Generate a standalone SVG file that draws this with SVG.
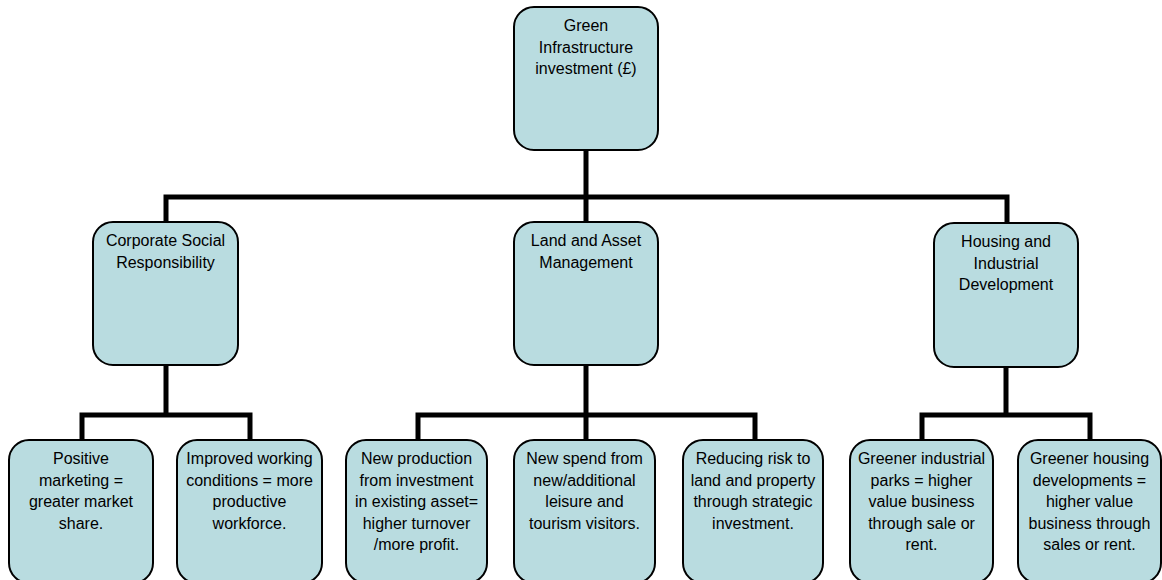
<svg xmlns="http://www.w3.org/2000/svg" width="1162" height="580" viewBox="0 0 1162 580">
<style>
.box{fill:#b9dce0;stroke:#000;stroke-width:2}
.t{font-family:"Liberation Sans",Arial,sans-serif;font-size:16px;fill:#000;text-anchor:middle}
.c{fill:none;stroke:#000;stroke-width:5;stroke-linejoin:miter;stroke-linecap:butt}
</style>
<rect width="1162" height="580" fill="#fff"/>
<g id="connectors">
<path class="c" d="M586 150V197M166 222V197H1007V222M586 197V222"/>
<path class="c" d="M166 365V415M82 440V415H250V440"/>
<path class="c" d="M586 365V415M418 440V415H755V440M586 415V440"/>
<path class="c" d="M1006 367V415M922 440V415H1090V440"/>
</g>
<g id="root">
<rect class="box" x="514" y="7" width="144" height="143" rx="20"/>
<text class="t" x="586" y="31">Green<tspan x="586" dy="21.5">Infrastructure</tspan><tspan x="586" dy="21.5">investment (£)</tspan></text>
</g>
<g id="csr">
<rect class="box" x="93" y="222" width="145" height="143" rx="20"/>
<text class="t" x="165.5" y="246">Corporate Social<tspan x="165.5" dy="21.5">Responsibility</tspan></text>
</g>
<g id="land">
<rect class="box" x="514" y="222" width="144" height="143" rx="20"/>
<text class="t" x="586" y="246">Land and Asset<tspan x="586" dy="21.5">Management</tspan></text>
</g>
<g id="housing">
<rect class="box" x="934" y="223" width="144" height="144" rx="20"/>
<text class="t" x="1006" y="247">Housing and<tspan x="1006" dy="21.5">Industrial</tspan><tspan x="1006" dy="21.5">Development</tspan></text>
</g>
<g id="b1">
<rect class="box" x="9" y="440" width="144" height="143" rx="20"/>
<text class="t" x="81" y="464">Positive<tspan x="81" dy="21.5">marketing =</tspan><tspan x="81" dy="21.5">greater market</tspan><tspan x="81" dy="21.5">share.</tspan></text>
</g>
<g id="b2">
<rect class="box" x="177" y="440" width="145" height="143" rx="20"/>
<text class="t" x="249.5" y="464">Improved working<tspan x="249.5" dy="21.5">conditions = more</tspan><tspan x="249.5" dy="21.5">productive</tspan><tspan x="249.5" dy="21.5">workforce.</tspan></text>
</g>
<g id="b3">
<rect class="box" x="346" y="440" width="141" height="143" rx="20"/>
<text class="t" x="416.5" y="464">New production<tspan x="416.5" dy="21.5">from investment</tspan><tspan x="416.5" dy="21.5">in existing asset=</tspan><tspan x="416.5" dy="21.5">higher turnover</tspan><tspan x="416.5" dy="21.5">/more profit.</tspan></text>
</g>
<g id="b4">
<rect class="box" x="514" y="440" width="141" height="143" rx="20"/>
<text class="t" x="584.5" y="464">New spend from<tspan x="584.5" dy="21.5">new/additional</tspan><tspan x="584.5" dy="21.5">leisure and</tspan><tspan x="584.5" dy="21.5">tourism visitors.</tspan></text>
</g>
<g id="b5">
<rect class="box" x="683" y="440" width="140" height="143" rx="20"/>
<text class="t" x="753" y="464">Reducing risk to<tspan x="753" dy="21.5">land and property</tspan><tspan x="753" dy="21.5">through strategic</tspan><tspan x="753" dy="21.5">investment.</tspan></text>
</g>
<g id="b6">
<rect class="box" x="850" y="440" width="143" height="143" rx="20"/>
<text class="t" x="921.5" y="464">Greener industrial<tspan x="921.5" dy="21.5">parks = higher</tspan><tspan x="921.5" dy="21.5">value business</tspan><tspan x="921.5" dy="21.5">through sale or</tspan><tspan x="921.5" dy="21.5">rent.</tspan></text>
</g>
<g id="b7">
<rect class="box" x="1018" y="440" width="143" height="143" rx="20"/>
<text class="t" x="1089.5" y="464">Greener housing<tspan x="1089.5" dy="21.5">developments =</tspan><tspan x="1089.5" dy="21.5">higher value</tspan><tspan x="1089.5" dy="21.5">business through</tspan><tspan x="1089.5" dy="21.5">sales or rent.</tspan></text>
</g>
</svg>
